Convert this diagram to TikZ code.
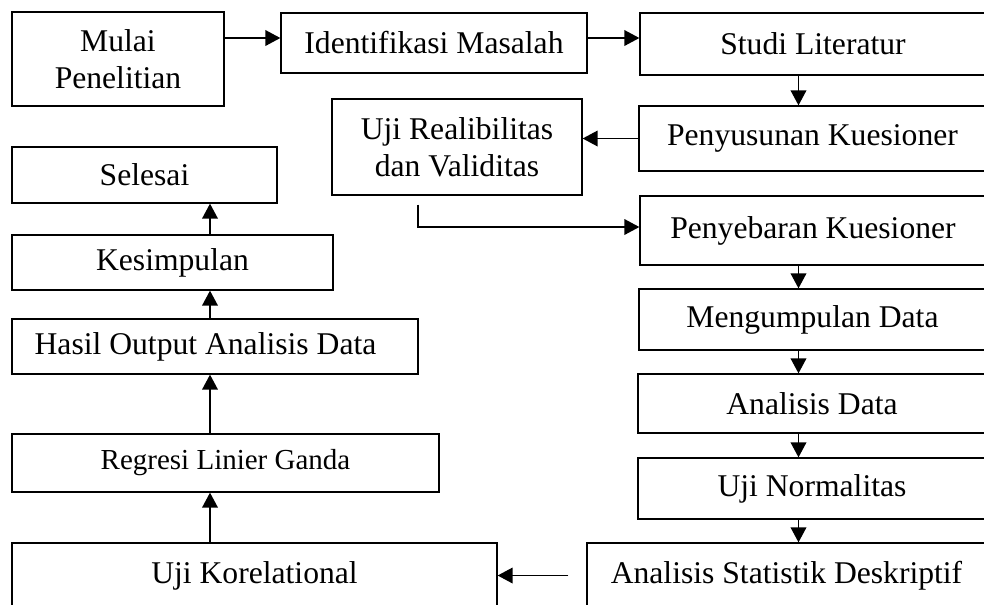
\documentclass[tikz,border=0pt]{standalone}
\usepackage{fontspec}
\setmainfont{Liberation Serif}
\usetikzlibrary{arrows.meta}
\begin{document}
\begin{tikzpicture}[>={Triangle[length=3mm,width=3.1mm]}, line width=0.7pt,
  box/.style={draw, rectangle, inner sep=0pt, align=center, font=\fontsize{18}{21}\selectfont},
  link/.style={->, line width=1.1pt}]
  \useasboundingbox (0,0) rectangle (19.68,-12.08);
  \clip (0,0) rectangle (19.68,-12.08);
  \node[box, minimum width=4.24cm, minimum height=1.88cm] (mulai) at (2.36,-1.18) {Mulai\\Penelitian};
  \node[box, minimum width=6.12cm, minimum height=1.2cm] (identifikasi) at (8.68,-0.86) {Identifikasi Masalah};
  \node[box, minimum width=6.92cm, minimum height=1.24cm] (studi) at (16.26,-0.88) {Studi Literatur};
  \node[box, minimum width=6.94cm, minimum height=1.3cm] (penyusunan) at (16.25,-2.77) {Penyusunan Kuesioner};
  \node[box, minimum width=5cm, minimum height=1.92cm] (uji) at (9.14,-2.94) {Uji Realibilitas\\dan Validitas};
  \node[box, minimum width=6.92cm, minimum height=1.38cm] (penyebaran) at (16.26,-4.61) {Penyebaran Kuesioner};
  \node[box, minimum width=6.94cm, minimum height=1.22cm] (mengumpulan) at (16.25,-6.39) {Mengumpulan Data};
  \node[box, minimum width=6.96cm, minimum height=1.18cm] (analisis) at (16.24,-8.07) {Analisis Data};
  \node[box, minimum width=6.96cm, minimum height=1.22cm] (normalitas) at (16.24,-9.77) {Uji Normalitas};
  \node[box, minimum width=7.98cm, minimum height=1.3cm] (deskriptif) at (15.73,-11.51) {Analisis Statistik Deskriptif};
  \node[box, minimum width=9.7cm, minimum height=1.3cm] (korelational) at (5.09,-11.51) {Uji Korelational};
  \node[box, minimum width=8.54cm, minimum height=1.16cm, font=\fontsize{16.5}{20}\selectfont] (regresi) at (4.51,-9.26) {Regresi Linier Ganda};
  \node[box, minimum width=8.12cm, minimum height=1.1cm] (hasil) at (4.3,-6.93) {Hasil Output Analisis Data\hspace{0.38cm}};
  \node[box, minimum width=6.42cm, minimum height=1.1cm] (kesimpulan) at (3.45,-5.25) {Kesimpulan};
  \node[box, minimum width=5.3cm, minimum height=1.12cm] (selesai) at (2.89,-3.5) {Selesai};
  \coordinate (laxis) at (4.2,0);
  \coordinate (raxis) at (15.97,0);
  \coordinate (bend) at ([xshift=-0.78cm, yshift=-0.18cm]uji.south);
  \coordinate (tail) at ([xshift=-0.36cm]deskriptif.west);
  \draw[link] ([yshift=0.1cm]identifikasi.west -| mulai.east) -- ([yshift=0.1cm]identifikasi.west);
  \draw[link] ([yshift=0.1cm]identifikasi.east) -- ([yshift=0.1cm]identifikasi.east -| studi.west);
  \draw[link] (studi.south -| raxis) -- (penyusunan.north -| raxis);
  \draw[link] (penyusunan.west) -- (penyusunan.west -| uji.east);
  \draw[link] (bend) |- ([yshift=0.07cm]penyebaran.west);
  \draw[link] (penyebaran.south -| raxis) -- (mengumpulan.north -| raxis);
  \draw[link] (mengumpulan.south -| raxis) -- (analisis.north -| raxis);
  \draw[link] (analisis.south -| raxis) -- (normalitas.north -| raxis);
  \draw[link] (normalitas.south -| raxis) -- (deskriptif.north -| raxis);
  \draw[link] (tail) -- (tail -| korelational.east);
  \draw[link] (korelational.north -| laxis) -- (regresi.south -| laxis);
  \draw[link] (regresi.north -| laxis) -- (hasil.south -| laxis);
  \draw[link] (hasil.north -| laxis) -- (kesimpulan.south -| laxis);
  \draw[link] (kesimpulan.north -| laxis) -- (selesai.south -| laxis);
\end{tikzpicture}
\end{document}
